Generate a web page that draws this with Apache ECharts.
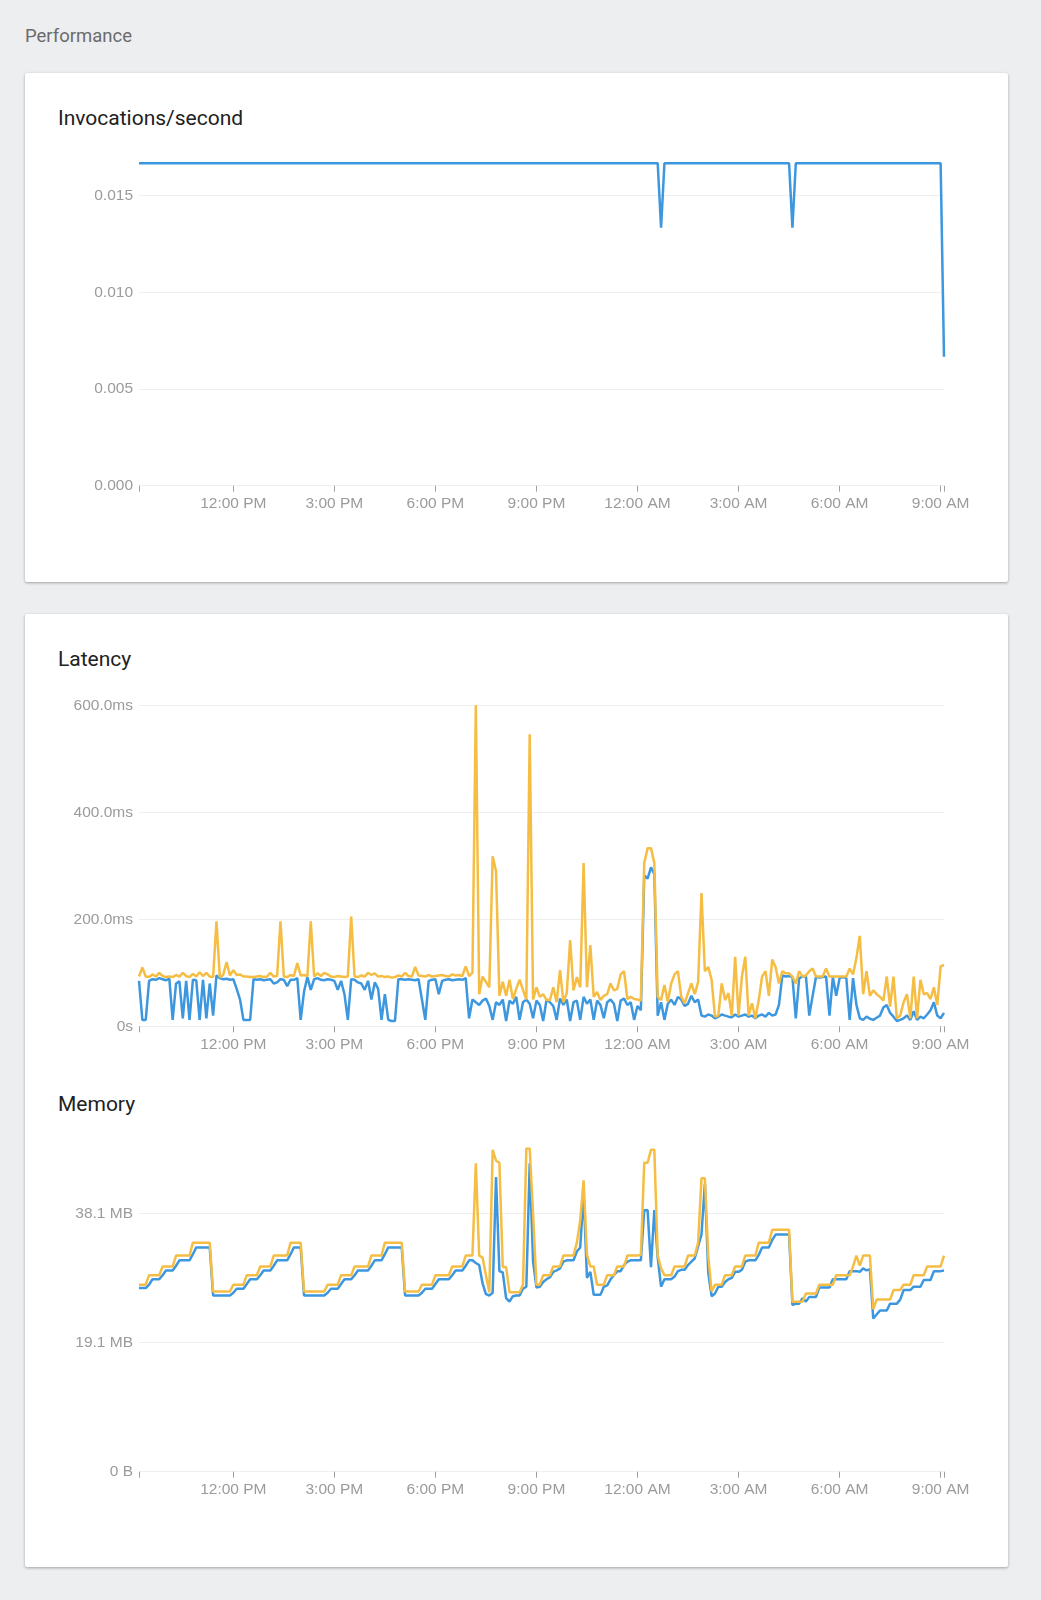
<!DOCTYPE html>
<html>
<head>
<meta charset="utf-8">
<title>Performance</title>
<script src="https://cdn.jsdelivr.net/npm/echarts@6.0.0/dist/echarts.min.js"></script>
<style>
  html, body { margin: 0; padding: 0; }
  body {
    width: 1041px; height: 1600px; position: relative; overflow: hidden;
    background: #edeef0; font-family: Roboto, "Noto Sans", sans-serif;
  }
  .heading { position: absolute; left: 25px; top: 25px; font-size: 18.5px; line-height: 22px; color: #6b6b6b; }
  .card {
    position: absolute; left: 25px; width: 983px; background: #fff; border-radius: 2px;
    box-shadow: 0 1px 3px rgba(0, 0, 0, 0.32);
  }
  .title { position: absolute; left: 58px; font-size: 21px; line-height: 24px; color: #212121; }
  #chart { position: absolute; left: 0; top: 0; width: 1041px; height: 1600px; }
</style>
</head>
<body>
<div class="heading">Performance</div>
<div class="card" style="top:73px;height:509px"></div>
<div class="card" style="top:614px;height:953px"></div>
<div class="title" style="top:106px">Invocations/second</div>
<div class="title" style="top:647px">Latency</div>
<div class="title" style="top:1092px">Memory</div>
<div id="chart"></div>

<script>
// samples every 6 minutes, 9:12 AM -> 9:06 AM next day
const startTime = new Date(2020, 0, 6, 9, 12).getTime();
const stepMs = 6 * 60 * 1000;
const sampleCount = 240;

// hours (from midnight of day 1) of the labelled ticks
const tickHours = [12, 15, 18, 21, 24, 27, 30, 33];

// invocations/second: [sample index, value] at each change
const invocations = [
  [0, 0.016667], [154, 0.016667], [155, 0.013333], [156, 0.016667],
  [193, 0.016667], [194, 0.013333], [195, 0.016667], [238, 0.016667], [239, 0.006667]
];

// latency, ms
const latencyP50 = [
  85, 12, 12, 85, 88, 87, 90, 88, 86, 89,
  12, 80, 84, 15, 85, 12, 87, 86, 12, 87,
  15, 80, 20, 95, 90, 88, 89, 87, 88, 70,
  50, 12, 12, 12, 88, 87, 88, 86, 87, 88,
  80, 82, 88, 87, 75, 87, 87, 90, 12, 65,
  92, 68, 88, 90, 87, 86, 88, 87, 85, 68,
  85, 60, 12, 88, 87, 82, 80, 68, 85, 50,
  82, 70, 12, 60, 12, 10, 10, 88, 88, 87,
  88, 87, 86, 88, 50, 12, 85, 87, 88, 60,
  85, 87, 88, 86, 87, 88, 87, 90, 15, 50,
  45, 40, 48, 52, 38, 12, 45, 40, 50, 10,
  48, 42, 55, 12, 45, 50, 42, 15, 48, 40,
  10, 50, 45, 38, 12, 52, 40, 50, 10, 45,
  48, 12, 55, 42, 50, 12, 48, 40, 15, 45,
  50, 42, 10, 48, 52, 40, 45, 12, 38, 30,
  282, 276, 297, 285, 20, 45, 12, 42, 50, 40,
  55, 50, 38, 42, 57, 45, 50, 20, 18, 22,
  20, 15, 18, 22, 20, 18, 17, 22, 18, 20,
  22, 18, 20, 15, 20, 22, 18, 25, 20, 22,
  40, 95, 93, 94, 92, 15, 90, 93, 94, 20,
  57, 92, 91, 92, 93, 20, 92, 57, 90, 92,
  90, 12, 90, 40, 15, 12, 18, 14, 12, 16,
  20, 35, 40, 25, 18, 10, 12, 15, 20, 12,
  28, 12, 18, 15, 22, 30, 45, 20, 15, 25
];
const latencyP99 = [
  93, 110, 93, 92, 97, 93, 100, 94, 92, 93,
  92, 96, 93, 100, 94, 92, 98, 93, 101, 94,
  100, 93, 92, 196, 92, 96, 120, 95, 105, 96,
  97, 93, 93, 92, 92, 93, 94, 92, 93, 100,
  93, 94, 196, 93, 92, 96, 94, 118, 95, 96,
  94, 196, 93, 99, 94, 100, 97, 93, 92, 94,
  93, 92, 93, 205, 93, 92, 95, 93, 100, 96,
  99, 93, 94, 92, 93, 91, 92, 95, 93, 100,
  94, 93, 111, 95, 94, 93, 96, 93, 94, 95,
  96, 94, 93, 97, 95, 96, 94, 112, 94, 100,
  600, 60, 93, 83, 73, 318, 290, 57, 83, 57,
  87, 51, 70, 87, 68, 50, 546, 50, 73, 55,
  60, 49, 49, 73, 45, 105, 45, 62, 161, 67,
  92, 73, 305, 73, 152, 55, 64, 49, 57, 60,
  80, 67, 70, 97, 103, 51, 55, 51, 50, 48,
  305, 333, 333, 305, 55, 49, 77, 46, 80, 97,
  103, 55, 43, 62, 80, 60, 83, 249, 103, 111,
  87, 18, 20, 80, 49, 62, 20, 130, 20, 93,
  130, 20, 43, 15, 49, 93, 103, 57, 125, 111,
  80, 103, 99, 99, 93, 80, 103, 93, 95, 103,
  108, 93, 93, 93, 108, 93, 93, 93, 93, 93,
  93, 108, 97, 128, 169, 60, 103, 57, 67, 60,
  55, 48, 93, 37, 93, 15, 20, 45, 60, 15,
  93, 15, 87, 60, 62, 51, 73, 40, 112, 115
];

// memory, MiB
const memoryP50 = [
  27.1, 27.1, 27.1, 27.6, 28.4, 28.4, 28.4, 29.0, 29.7, 29.7,
  29.7, 30.4, 31.2, 31.2, 31.2, 31.2, 32.1, 33.1, 33.1, 33.1,
  33.1, 33.1, 26.0, 26.0, 26.0, 26.0, 26.0, 26.0, 26.4, 27.0,
  27.0, 27.0, 27.7, 28.4, 28.4, 28.4, 29.0, 29.7, 29.7, 29.7,
  30.4, 31.2, 31.2, 31.2, 31.2, 32.1, 33.1, 33.1, 33.1, 26.0,
  26.0, 26.0, 26.0, 26.0, 26.0, 26.0, 26.4, 27.0, 27.0, 27.0,
  27.7, 28.4, 28.4, 28.4, 29.0, 29.7, 29.7, 29.7, 29.7, 30.4,
  31.2, 31.2, 31.2, 32.1, 33.1, 33.1, 33.1, 33.1, 33.1, 26.0,
  26.0, 26.0, 26.0, 26.0, 26.4, 27.0, 27.0, 27.0, 27.7, 28.4,
  28.4, 28.4, 28.4, 29.0, 29.7, 29.7, 29.7, 30.4, 31.2, 31.2,
  30.8, 30.5, 27.8, 26.2, 26.0, 26.4, 43.5, 29.6, 29.4, 25.6,
  25.1, 25.9, 26.0, 26.0, 27.0, 27.3, 45.5, 31.0, 27.2, 27.3,
  28.0, 28.4, 28.7, 29.5, 29.7, 30.0, 31.0, 31.2, 31.2, 31.2,
  32.5, 33.1, 41.1, 28.6, 29.5, 26.1, 26.1, 26.1, 27.3, 27.5,
  28.4, 29.0, 29.6, 29.6, 30.5, 31.0, 31.2, 31.2, 31.2, 31.2,
  38.6, 38.6, 30.2, 38.6, 31.6, 27.3, 28.4, 28.4, 28.4, 28.8,
  29.6, 29.8, 29.8, 30.5, 31.0, 31.5, 33.3, 35.0, 42.5, 29.4,
  25.9, 26.3, 27.3, 27.3, 28.0, 28.4, 28.6, 29.5, 29.5, 29.8,
  31.0, 31.2, 31.2, 31.2, 32.0, 33.1, 33.1, 33.1, 34.2, 35.0,
  35.0, 35.0, 35.0, 35.0, 24.6, 24.8, 24.8, 25.6, 25.1, 25.8,
  25.8, 25.8, 27.2, 27.2, 27.2, 27.2, 28.4, 28.4, 28.4, 28.4,
  28.4, 29.6, 29.6, 29.6, 29.5, 30.0, 29.7, 29.9, 22.6, 23.2,
  23.8, 23.8, 23.8, 24.8, 24.8, 24.8, 25.4, 26.8, 26.8, 26.8,
  27.3, 27.3, 27.3, 28.3, 28.3, 28.3, 29.6, 29.6, 29.6, 29.7
];
const memoryP99 = [
  27.6, 27.6, 27.6, 29.0, 29.0, 29.0, 29.0, 30.3, 30.3, 30.3,
  30.3, 31.9, 31.9, 31.9, 31.9, 31.9, 33.8, 33.8, 33.8, 33.8,
  33.8, 33.8, 26.6, 26.6, 26.6, 26.6, 26.6, 26.6, 27.6, 27.6,
  27.6, 27.6, 29.0, 29.0, 29.0, 29.0, 30.3, 30.3, 30.3, 30.3,
  31.9, 31.9, 31.9, 31.9, 31.9, 33.8, 33.8, 33.8, 33.8, 26.6,
  26.6, 26.6, 26.6, 26.6, 26.6, 26.6, 27.6, 27.6, 27.6, 27.6,
  29.0, 29.0, 29.0, 29.0, 30.3, 30.3, 30.3, 30.3, 30.3, 31.9,
  31.9, 31.9, 31.9, 33.8, 33.8, 33.8, 33.8, 33.8, 33.8, 26.6,
  26.6, 26.6, 26.6, 26.6, 27.6, 27.6, 27.6, 27.6, 29.0, 29.0,
  29.0, 29.0, 29.0, 30.3, 30.3, 30.3, 30.3, 31.9, 31.9, 31.9,
  45.5, 31.9, 31.6, 29.0, 26.5, 47.5, 45.9, 45.6, 30.2, 30.2,
  26.5, 26.5, 26.5, 26.5, 27.6, 47.7, 47.7, 38.0, 27.6, 27.6,
  29.0, 29.0, 29.0, 30.3, 30.3, 30.3, 31.9, 31.9, 31.9, 31.9,
  33.8, 37.1, 43.0, 32.0, 30.3, 30.3, 27.6, 27.6, 27.6, 29.0,
  29.0, 29.0, 30.3, 30.3, 30.3, 31.9, 31.9, 31.9, 31.9, 32.0,
  45.6, 45.6, 47.5, 47.5, 31.9, 30.0, 29.0, 29.0, 29.0, 30.3,
  30.3, 30.3, 30.3, 31.9, 31.9, 31.9, 33.8, 43.3, 43.3, 31.9,
  26.6, 27.6, 27.6, 27.6, 29.0, 29.0, 29.0, 30.3, 30.3, 30.3,
  31.9, 31.9, 31.9, 31.9, 33.8, 33.8, 33.8, 33.8, 35.7, 35.7,
  35.7, 35.7, 35.7, 35.7, 25.1, 25.1, 25.1, 25.1, 26.3, 26.3,
  26.3, 26.3, 27.6, 27.6, 27.6, 27.6, 27.6, 29.0, 29.0, 29.0,
  29.0, 29.0, 30.3, 31.9, 30.4, 31.9, 31.9, 31.9, 24.0, 25.4,
  25.4, 25.4, 25.4, 25.4, 26.8, 26.8, 26.8, 27.6, 27.6, 27.6,
  29.0, 29.0, 29.0, 29.0, 30.3, 30.3, 30.3, 30.3, 30.3, 31.9
];

const BLUE = '#3d97de';
const ORANGE = '#f5bd43';
const LABEL = '#9b9b9b';
const GRID_LINE = '#efefef';
const MIB_20M = 20000000 / 1048576;

const sampleTimes = [];
for (let i = 0; i < sampleCount; i++) sampleTimes.push(startTime + i * stepMs);
const day0 = new Date(2020, 0, 6).getTime();
const labelTimes = tickHours.map(h => day0 + h * 3600 * 1000);
const tMin = sampleTimes[0];
const tMax = sampleTimes[sampleCount - 1];

function timeLabel(v) {
  const d = new Date(v);
  let h = d.getHours();
  const ap = h >= 12 ? 'PM' : 'AM';
  h = h % 12 || 12;
  return h + ':00 ' + ap;
}

function withTimes(values) {
  return values.map((v, i) => [sampleTimes[i], v]);
}

const axisFont = { color: LABEL, fontSize: 15.5, fontFamily: '"Liberation Sans", Arial, sans-serif' };

// plain value axis over the timestamps, so that custom tick positions work
function makeX(gridIndex) {
  return {
    type: 'value', gridIndex: gridIndex, min: tMin, max: tMax, scale: true,
    axisLine: { show: false },
    axisTick: { show: true, length: 6, lineStyle: { color: '#a0a0a0' }, customValues: [tMin].concat(labelTimes, [tMax]) },
    axisLabel: Object.assign({ margin: 10, customValues: labelTimes, formatter: timeLabel }, axisFont),
    splitLine: { show: false }
  };
}

// showMax: the top of the axis is itself a round tick (latency 600ms)
function makeY(gridIndex, max, interval, formatter, showMax) {
  return {
    type: 'value', gridIndex: gridIndex, min: 0, max: max, interval: interval,
    axisLine: { show: false }, axisTick: { show: false },
    axisLabel: Object.assign({ margin: 6, formatter: formatter, showMaxLabel: showMax }, axisFont),
    splitLine: { show: true, showMaxLine: showMax, lineStyle: { color: GRID_LINE, width: 1 } }
  };
}

function line(name, data, color, xi) {
  return {
    name: name, type: 'line', xAxisIndex: xi, yAxisIndex: xi, data: data,
    showSymbol: false, symbol: 'none', silent: true,
    lineStyle: { color: color, width: 2.5 }, itemStyle: { color: color }
  };
}

const chart = echarts.init(document.getElementById('chart'), null, { renderer: 'canvas' });

chart.setOption({
  animation: false,
  backgroundColor: 'transparent',
  grid: [
    { left: 139, width: 805, top: 163.3, height: 322.4 },
    { left: 139, width: 805, top: 705.3, height: 321 },
    { left: 139, width: 805, top: 1148.5, height: 323.2 }
  ],
  xAxis: [makeX(0), makeX(1), makeX(2)],
  yAxis: [
    makeY(0, 0.016667, 0.005, v => v.toFixed(3), false),
    makeY(1, 600, 200, v => v === 0 ? '0s' : v.toFixed(1) + 'ms', true),
    makeY(2, 47.7, MIB_20M, v => v === 0 ? '0 B' : v.toFixed(1) + ' MB', false)
  ],
  series: [
    line('Invocations', invocations.map(p => [sampleTimes[p[0]], p[1]]), BLUE, 0),
    line('Latency 50th', withTimes(latencyP50), BLUE, 1),
    line('Latency 99th', withTimes(latencyP99), ORANGE, 1),
    line('Memory 50th', withTimes(memoryP50), BLUE, 2),
    line('Memory 99th', withTimes(memoryP99), ORANGE, 2)
  ]
});
</script>
</body>
</html>
